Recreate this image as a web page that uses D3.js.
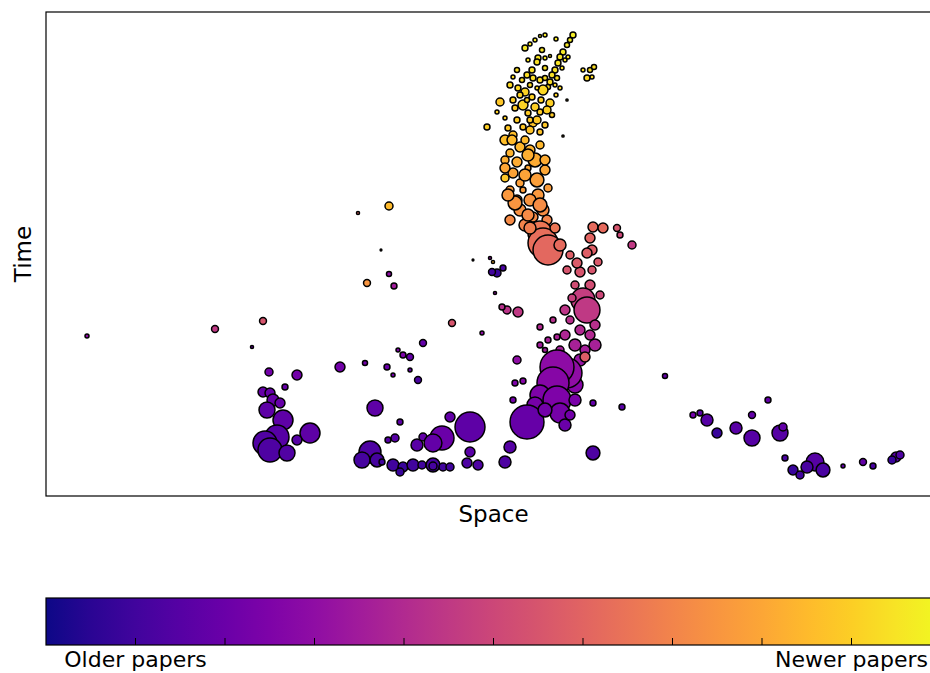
<!DOCTYPE html>
<html>
<head>
<meta charset="utf-8">
<script src="https://cdn.jsdelivr.net/npm/d3@7"></script>
<style>
  html, body { margin: 0; padding: 0; background: #fff; }
  svg { display: block; font-family: "DejaVu Sans", sans-serif; }
</style>
</head>
<body>
<svg id="chart" width="930" height="673"></svg>
<script>
// Papers laid out in space vs time, coloured by age (plasma), sized by weight.
// Each row: [space, time, size, age]

const stemTop = [
  [52.7, 46.1, 2.2, .97], [52.4, 45.6, 1.6, .97], [52.1, 45.1, 1.6, .96], [51.7, 44.4, 2.2, .96],
  [51.4, 43.9, 2.2, .95], [51.2, 43.3, 2.2, .95], [50.9, 42.6, 2.2, .94], [50.6, 42.1, 2.2, .94],
  [50.4, 41.4, 2.2, .93], [50.2, 40.9, 1.6, .93], [51.9, 43.6, 1, .95], [52.2, 43.9, 1, .95],
  [51.6, 42.8, 1, .94], [50.4, 44.0, 0.6, .95], [47.9, 44.8, 2.2, .96], [48.9, 45.6, 1, .96],
  [49.4, 46.0, 0.6, .97], [49.6, 44.6, 1.6, .95], [49.2, 43.8, 2.2, .95], [49.1, 43.4, 2.2, .94],
  [48.6, 42.6, 2.2, .94], [48.1, 42.1, 2.2, .93], [47.6, 41.6, 1.6, .93], [46.7, 41.9, 1, .93],
  [46.4, 41.1, 2.2, .92], [47.2, 40.8, 2.2, .92], [47.9, 40.4, 4, .91], [48.6, 39.9, 2.2, .91],
  [49.7, 40.6, 6.2, .92], [50.4, 39.3, 4, .90], [50.1, 38.6, 4, .90], [48.9, 38.9, 4, .90],
  [47.7, 39.1, 6.2, .91], [48.2, 38.3, 2.2, .89], [49.1, 37.6, 4, .88], [47.1, 37.6, 2.2, .89],
  [47.7, 36.9, 2.2, .88], [45.4, 39.4, 4, .88], [44.1, 36.9, 2.2, .90], [53.7, 42.6, 1, .93],
  [54.4, 42.6, 1.6, .93], [54.8, 42.9, 1.6, .93], [54.1, 41.8, 2.2, .92], [54.6, 41.9, 1, .92],
  [52.1, 39.6, 0.3, .90], [51.7, 36.0, 0.3, .85], [49.9, 42.8, 1.6, .94], [49.4, 41.6, 2.2, .93],
  [48.4, 41.1, 1.6, .92], [51.0, 40.1, 1, .91], [46.7, 39.6, 2.2, .90], [48.4, 36.6, 4, .87],
  [49.4, 36.4, 2.2, .87], [48.2, 43.6, 1, .95], [49.9, 41.8, 1.6, .93], [49.1, 40.8, 1, .92],
  [47.4, 40.1, 2.2, .91], [49.5, 39.6, 2.2, .90], [48.4, 37.6, 2.2, .88], [49.9, 37.1, 2.2, .88],
  [45.9, 37.8, 1, .90], [50.9, 41.1, 1, .92], [48.4, 45.2, 1, .95], [49.9, 46.1, 1, .96],
  [51.0, 45.7, 1, .96], [48.7, 41.8, 2.2, .93], [47.1, 42.6, 1.6, .93], [51.1, 41.8, 1.6, .93],
  [46.9, 38.8, 2.2, .89], [49.4, 38.4, 2.2, .89], [50.6, 38.1, 1.6, .89], [46.2, 36.8, 2.2, .88],
  [45.1, 38.4, 1, .90], [48.1, 39.6, 1.6, .90], [51.4, 40.8, 1, .92], [49.9, 43.8, 1, .95]
]

const stemMid = [
  [46.7, 36.1, 4, .86], [48.7, 37.3, 4, .87], [45.9, 35.6, 6.2, .86], [47.4, 34.9, 6.2, .84],
  [46.4, 34.3, 4, .83], [48.4, 34.6, 6.2, .83], [48.9, 33.6, 12, .81], [47.1, 33.4, 6.2, .81],
  [46.7, 32.3, 6.2, .79], [45.9, 31.8, 4, .88], [49.1, 31.6, 12, .78], [47.4, 31.3, 4, .78],
  [49.2, 30.1, 9, .76], [47.1, 29.6, 6.2, .76], [48.4, 29.6, 9, .75], [47.4, 28.6, 9, .74],
  [49.7, 28.6, 9, .73], [48.7, 27.9, 6.2, .72], [46.9, 29.3, 12, .75], [50.1, 27.6, 6.2, .70],
  [47.7, 30.6, 2.2, .77], [48.2, 32.8, 2.2, .80], [47.9, 35.6, 4, .85], [49.4, 35.1, 4, .84],
  [45.9, 33.6, 4, .82], [49.9, 32.6, 6.2, .80], [46.4, 30.6, 4, .77], [50.2, 30.8, 4, .77],
  [46.4, 27.6, 6.2, .72], [47.9, 27.1, 9, .70], [46.6, 35.6, 6.2, .85], [48.2, 34.1, 9, .82],
  [45.9, 32.8, 6.2, .80], [49.9, 33.6, 6.2, .81], [47.9, 32.1, 9, .79], [46.2, 30.1, 9, .76],
  [49.4, 29.1, 12, .73], [48.2, 28.1, 9, .72],
  [49.4, 26.3, 36, .66], [49.7, 25.3, 56, .63], [50.2, 24.6, 56, .61], [48.4, 26.8, 9, .68],
  [50.9, 26.8, 6.2, .66], [51.4, 25.1, 9, .62],
  [54.7, 26.9, 6.2, .62], [55.7, 26.8, 6.2, .62], [54.4, 25.8, 6.2, .60], [54.6, 24.6, 6.2, .58],
  [57.1, 26.8, 3, .55], [57.4, 26.1, 2.2, .50], [58.6, 25.1, 4, .45], [54.1, 24.3, 6.2, .58],
  [53.1, 23.3, 6.2, .57], [52.4, 24.1, 4, .58]
]

const stemLow = [
  [53.4, 22.4, 6.2, .55], [54.6, 22.6, 4, .55], [52.9, 21.1, 4, .52], [54.4, 21.1, 6.2, .52],
  [55.2, 23.4, 4, .56], [52.1, 22.6, 4, .55], [55.4, 20.1, 4, .50],
  [53.7, 19.6, 36, .47], [54.1, 18.6, 42, .45], [52.6, 19.8, 4, .48], [52.4, 17.6, 4, .42],
  [51.9, 18.6, 6.2, .44], [54.9, 17.1, 6.2, .42], [51.9, 16.1, 6.2, .39], [54.9, 15.1, 9, .37],
  [53.4, 16.6, 6.2, .40], [54.4, 16.1, 6.2, .40], [52.9, 15.1, 9, .37], [53.9, 14.6, 6.2, .36],
  [49.4, 16.9, 2.2, .40], [50.7, 17.6, 2.2, .42], [51.1, 15.9, 2.2, .38], [50.2, 15.6, 2.2, .37],
  [51.4, 14.6, 4, .36], [49.9, 14.6, 1.6, .35], [49.4, 15.1, 2.2, .35],
  [53.4, 13.6, 9, .32], [52.9, 11.1, 16, .27],
  [52.1, 12.3, 56, .30], [51.1, 12.9, 72, .29], [50.7, 11.3, 64, .27], [49.4, 10.1, 25, .25],
  [51.1, 9.6, 49, .25], [48.9, 9.1, 16, .23], [51.4, 8.3, 25, .23], [51.9, 7.1, 9, .20],
  [48.1, 7.4, 72, .19], [49.9, 8.6, 12, .22], [52.9, 9.6, 9, .24],
  [52.4, 8.1, 6.2, .22], [53.9, 13.9, 6.2, .58],
  [47.1, 13.6, 4, .30], [46.9, 11.3, 2.2, .25], [47.7, 11.5, 2.2, .27], [46.7, 9.6, 2.2, .22],
  [46.4, 4.9, 9, .15], [45.9, 3.4, 9, .13], [54.7, 4.3, 12, .13], [54.7, 9.3, 2.2, .18],
  [57.6, 8.9, 2.2, .16], [61.9, 12.0, 1.6, .18],
  [47.2, 18.4, 6.2, .45], [46.1, 18.6, 4, .43], [45.6, 18.9, 2.2, .42],
  [45.1, 22.3, 4, .08], [44.6, 22.4, 3, .10], [45.7, 22.8, 2.2, .12], [44.7, 23.4, 0.6, .85],
  [44.4, 23.8, 0.6, .30], [44.9, 20.3, 0.6, .30], [42.7, 23.6, 0.2, .50]
]

const scattered = [
  [4.1, 16.0, 1, .30], [16.9, 16.7, 3, .45], [21.7, 17.5, 3, .55], [20.6, 14.9, 0.6, .20],
  [31.2, 28.3, 0.6, .60], [34.3, 29.0, 4, .85], [33.5, 24.6, 0.2, .60], [34.3, 22.2, 1.6, .30],
  [32.1, 21.3, 3, .75], [34.8, 21.0, 2.2, .35], [40.6, 17.3, 3, .55], [43.6, 16.3, 1, .30],
  [37.7, 15.3, 3, .18], [35.2, 14.6, 1, .25], [35.7, 14.1, 2.2, .25], [36.4, 13.9, 3, .18],
  [29.4, 12.9, 6.2, .22], [31.9, 13.3, 1.6, .22], [34.1, 12.9, 2.2, .20], [34.7, 12.1, 1, .22],
  [36.4, 12.6, 1, .18], [37.2, 11.6, 3, .12]
]

const leftCluster = [
  [22.3, 12.4, 4, .22], [25.1, 12.1, 6.2, .22], [23.9, 10.9, 2.2, .19], [21.7, 10.4, 6.2, .19],
  [22.4, 10.3, 6.2, .19], [22.7, 9.6, 9, .19], [23.4, 9.3, 6.2, .19], [22.1, 8.6, 16, .17],
  [23.7, 7.6, 25, .17], [23.1, 5.9, 36, .15], [21.9, 5.3, 36, .14], [22.4, 4.6, 36, .13],
  [24.1, 4.3, 16, .14], [26.4, 6.3, 25, .17], [25.1, 5.6, 6.2, .15]
]

const bottomCluster = [
  [32.9, 8.8, 16, .17], [35.4, 7.4, 2.2, .17], [34.9, 5.8, 4, .15], [34.2, 5.6, 2.2, .15],
  [32.4, 4.4, 30, .13], [31.6, 3.6, 16, .11], [33.1, 3.6, 12, .11], [34.7, 3.1, 9, .10],
  [35.7, 2.9, 6.2, .08], [35.4, 2.4, 4, .08], [36.7, 3.1, 9, .10], [37.6, 3.1, 4, .10],
  [38.7, 3.1, 12, .11], [38.7, 3.0, 4, .11], [39.7, 2.9, 4, .10], [40.4, 2.9, 4, .10],
  [37.1, 5.1, 9, .16], [37.7, 5.9, 4, .18], [39.6, 5.8, 36, .20], [38.7, 5.3, 20, .18],
  [40.4, 7.9, 6.2, .18], [42.4, 6.9, 56, .17], [42.4, 4.4, 6.2, .16], [42.1, 3.3, 6.2, .13],
  [43.2, 3.1, 6.2, .13], [33.6, 3.4, 2.2, .10]
]

const rightCluster = [
  [72.2, 9.6, 2.2, .18], [70.6, 8.1, 3, .18], [64.7, 8.1, 2.2, .22], [66.1, 7.6, 9, .15],
  [67.1, 6.3, 6.2, .08], [69.0, 6.8, 9, .16], [70.6, 5.8, 16, .15], [73.4, 6.3, 16, .15],
  [73.7, 6.9, 4, .18], [73.9, 3.8, 2.2, .12], [76.9, 3.4, 20, .15], [76.1, 2.9, 9, .12],
  [77.7, 2.6, 12, .12], [74.7, 2.6, 6.2, .08], [75.4, 2.1, 4, .10], [79.7, 3.0, 1, .18],
  [81.7, 3.4, 3, .18], [82.7, 3.0, 2.2, .12], [85.0, 3.9, 6.2, .16], [85.4, 4.1, 4, .13],
  [84.6, 3.6, 4, .08], [65.4, 8.3, 2.2, .16]
]

const colorTicks = [0.1, 0.2, 0.3, 0.4, 0.5, 0.6, 0.7, 0.8, 0.9]
const colorTickLabels = { 0.1: "Older papers", 0.9: "Newer papers" }

const svg = d3.select("#chart")

const plot = { left: 46, top: 12, right: 941, bottom: 496 }
const bar = { top: 598, bottom: 645 }

const x = d3.scaleLinear().domain([0, 89.5]).range([plot.left, plot.right])
const y = d3.scaleLinear().domain([0, 48.4]).range([plot.bottom, plot.top])
const r = d3.scaleSqrt().domain([0, 100]).range([0, 20])
const plasma = d3.scaleSequential(d3.interpolatePlasma).domain([0, 1])

const points = [].concat(leftCluster, bottomCluster, rightCluster, scattered, stemLow, stemMid, stemTop)

svg.append("g")
  .selectAll("circle")
  .data(points)
  .join("circle")
  .attr("cx", (d) => x(d[0]))
  .attr("cy", (d) => y(d[1]))
  .attr("r", (d) => r(d[2]))
  .attr("fill", (d) => plasma(d[3]))
  .attr("stroke", "#000")
  .attr("stroke-width", 1.5)

svg.append("rect")
  .attr("x", plot.left)
  .attr("y", plot.top)
  .attr("width", plot.right - plot.left)
  .attr("height", plot.bottom - plot.top)
  .attr("fill", "none")
  .attr("stroke", "#000")
  .attr("stroke-width", 1.2)

svg.append("text")
  .attr("x", (plot.left + plot.right) / 2)
  .attr("y", 522)
  .attr("text-anchor", "middle")
  .attr("font-size", 23)
  .text("Space")

svg.append("text")
  .attr("transform", `translate(31,${(plot.top + plot.bottom) / 2}) rotate(-90)`)
  .attr("text-anchor", "middle")
  .attr("font-size", 23)
  .text("Time")

// colorbar
const grad = svg.append("defs").append("linearGradient").attr("id", "plasma")
d3.range(0, 1.0001, 0.05).forEach((t) => {
  grad.append("stop").attr("offset", `${t * 100}%`).attr("stop-color", plasma(t))
})

const cb = d3.scaleLinear().domain([0, 1]).range([plot.left, plot.right])

svg.append("rect")
  .attr("x", plot.left)
  .attr("y", bar.top)
  .attr("width", plot.right - plot.left)
  .attr("height", bar.bottom - bar.top)
  .attr("fill", "url(#plasma)")
  .attr("stroke", "#000")
  .attr("stroke-width", 1.2)

svg.append("g")
  .selectAll("line")
  .data(colorTicks)
  .join("line")
  .attr("x1", (d) => cb(d))
  .attr("x2", (d) => cb(d))
  .attr("y1", bar.bottom)
  .attr("y2", bar.bottom - 7)
  .attr("stroke", "#000")
  .attr("stroke-width", 1)

svg.append("g")
  .selectAll("text")
  .data(colorTicks.filter((d) => colorTickLabels[d]))
  .join("text")
  .attr("x", (d) => cb(d))
  .attr("y", 667)
  .attr("text-anchor", "middle")
  .attr("font-size", 22)
  .text((d) => colorTickLabels[d])
</script>
</body>
</html>
